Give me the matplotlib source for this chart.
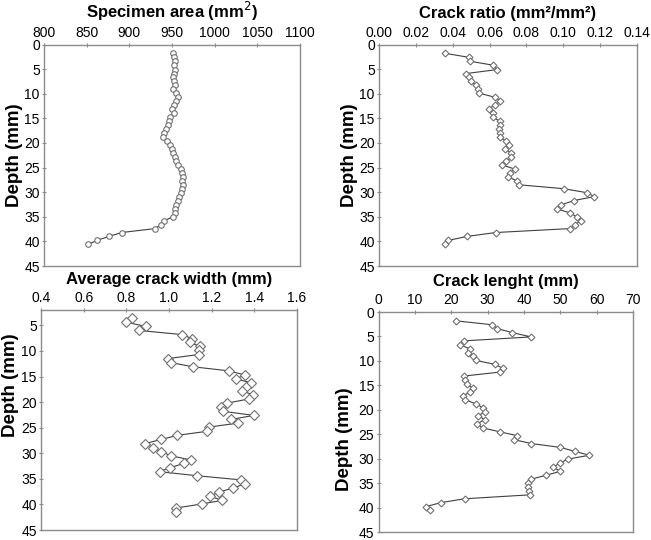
import matplotlib
matplotlib.use("Agg")
import matplotlib.pyplot as plt

plt.rcParams['font.family'] = ['Liberation Sans', 'DejaVu Sans']

# ── Data ─────────────────────────────────────────
depth = [1.8, 2.6, 3.4, 4.2, 5.1, 5.9, 6.7, 7.5, 8.3, 9.1, 9.9, 10.7, 11.5, 12.3,
         13.1, 14.0, 14.8, 15.6, 16.4, 17.2, 18.0, 18.8, 19.6, 20.4, 21.2, 22.0,
         22.9, 23.7, 24.5, 25.3, 26.1, 26.9, 27.7, 28.5, 29.3, 30.1, 30.9, 31.7,
         32.6, 33.4, 34.2, 35.0, 35.8, 36.6, 37.4, 38.2, 39.0, 39.8, 40.6]

# the crack width panel is plotted against its own (shifted) depth values
depth_width = [3.6, 4.4, 5.2, 6.0, 6.8, 7.6, 8.3, 9.1, 9.9, 10.7, 11.5, 12.3, 13.1,
               13.9, 14.7, 15.5, 16.2, 17.0, 17.8, 18.6, 19.4, 20.2, 21.0, 21.8,
               22.6, 23.4, 24.1, 24.9, 25.7, 26.5, 27.3, 28.1, 28.9, 29.7, 30.5,
               31.3, 32.0, 32.8, 33.6, 34.4, 35.2, 36.0, 36.8, 37.6, 38.4, 39.2,
               39.9, 40.7, 41.5]

specimen_area = [951, 952, 953, 952, 953, 952, 951, 952, 954, 951, 955, 957, 955,
                 952, 950, 952, 948, 946, 945, 943, 941, 939, 944, 948, 950, 951,
                 953, 955, 957, 960, 962, 963, 962, 963, 962, 960, 958, 957, 955,
                 953, 954, 951, 941, 937, 930, 891, 876, 862, 852]

crack_ratio = [0.036, 0.0487, 0.0495, 0.0618, 0.064, 0.0473, 0.0487, 0.050, 0.0527,
               0.0536, 0.0545, 0.0627, 0.0658, 0.0627, 0.0596, 0.0618, 0.0618, 0.0658,
               0.0658, 0.0651, 0.0655, 0.0655, 0.0691, 0.0705, 0.0682, 0.0715, 0.0718,
               0.0691, 0.0669, 0.0736, 0.0709, 0.070, 0.0749, 0.076, 0.1004, 0.1127,
               0.1169, 0.1058, 0.0987, 0.0964, 0.1036, 0.1073, 0.1095, 0.1064, 0.1036,
               0.0633, 0.0476, 0.0376, 0.036]

crack_width = [0.827, 0.80, 0.891, 0.859, 1.061, 1.108, 1.097, 1.144, 1.139, 1.139,
               0.995, 1.011, 1.113, 1.281, 1.355, 1.313, 1.386, 1.363, 1.344, 1.394,
               1.373, 1.273, 1.245, 1.253, 1.398, 1.289, 1.323, 1.186, 1.180, 1.039,
               0.964, 0.889, 0.925, 0.964, 1.011, 1.102, 1.069, 1.006, 0.956, 1.133,
               1.336, 1.355, 1.300, 1.233, 1.191, 1.250, 1.155, 1.034, 1.034]

crack_length = [21.2, 31.2, 32.7, 36.7, 42.0, 23.5, 22.3, 25.1, 24.6, 26.0, 26.7,
                32.0, 34.2, 33.3, 23.5, 23.7, 24.3, 26.0, 25.1, 23.2, 23.9, 26.9,
                28.7, 29.4, 27.4, 29.2, 27.1, 28.7, 33.3, 38.2, 37.2, 42.0, 50.0,
                54.0, 58.0, 52.0, 50.0, 48.0, 50.0, 46.0, 42.0, 41.0, 41.0, 41.5,
                41.6, 23.7, 17.1, 13.1, 14.2]

W, H = 651, 540
fig = plt.figure(figsize=(W / 100, H / 100), dpi=100)


def px_rect(left, right, top, bottom):
    return [left / W, 1 - bottom / H, (right - left) / W, (bottom - top) / H]


def panel(rect, x, y, title, xlim, xticks, fmt, marker, msize, ylim=(45, 0)):
    ax = fig.add_axes(px_rect(*rect))
    ax.plot(x, y, color="#404040", linewidth=0.8, marker=marker,
            markersize=msize, markerfacecolor="white", markeredgecolor="#707070",
            markeredgewidth=0.8)
    ax.set_xlim(*xlim)
    ax.set_ylim(*ylim)
    ax.set_xticks(xticks)
    ax.set_xticklabels([fmt.format(v) for v in xticks])
    ax.set_yticks([t for t in range(0, 50, 5) if t >= min(ylim)])
    ax.xaxis.tick_top()
    ax.tick_params(axis="both", labelsize=10, colors="#000000", length=3,
                   width=0.8, direction="inout", pad=1.5)
    ax.tick_params(axis="x", pad=2)
    for sp in ax.spines.values():
        sp.set_color("#8c8c8c")
        sp.set_linewidth(1.0)
    ax.tick_params(color="#8c8c8c")
    ax.set_title(title, fontsize=12, fontweight="bold", pad=19)
    ax.set_ylabel("Depth (mm)", fontsize=13.5, fontweight="bold", labelpad=1)
    return ax


panel((44, 300, 44.5, 266), specimen_area, depth, "Specimen area (mm$^2$)",
      (800, 1100), [800, 850, 900, 950, 1000, 1050, 1100], "{:d}", "o", 4)
panel((379, 637, 44.5, 266), crack_ratio, depth, "Crack ratio (mm\u00b2/mm\u00b2)",
      (0, 0.14), [0, 0.02, 0.04, 0.06, 0.08, 0.10, 0.12, 0.14], "{:.2f}", "D", 3.5)
ax_w = panel((41, 297, 310, 530), crack_width, depth_width, "Average crack width (mm)",
             (0.4, 1.6), [0.4, 0.6, 0.8, 1.0, 1.2, 1.4, 1.6], "{:.1f}", "D", 5,
             ylim=(45, 2))
ax_w.yaxis.set_label_coords(-0.085, 0.66)
ax_l = panel((378.5, 633, 312, 532), crack_length, depth, "Crack lenght (mm)",
             (0, 70), [0, 10, 20, 30, 40, 50, 60, 70], "{:d}", "D", 3.5)
ax_l.yaxis.set_label_coords(-0.1, 0.42)

fig.savefig("out.png", dpi=100)
